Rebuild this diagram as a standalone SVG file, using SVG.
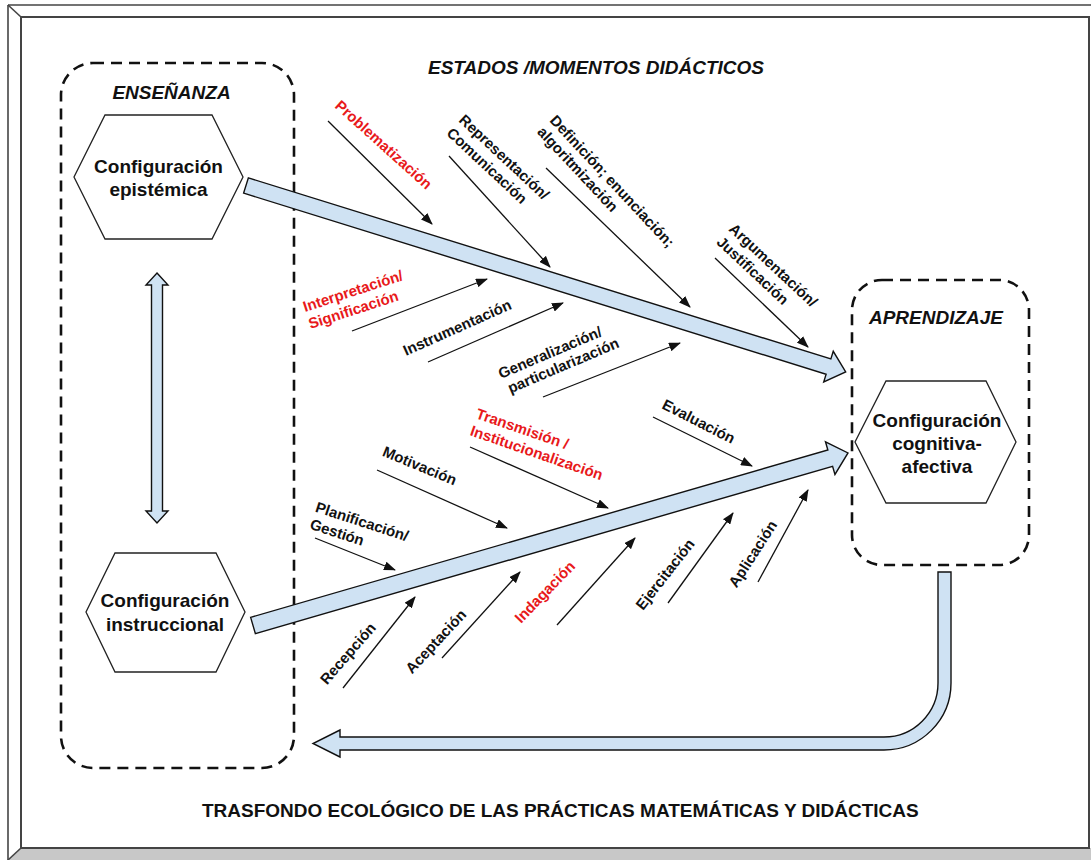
<svg xmlns="http://www.w3.org/2000/svg" width="1091" height="860" viewBox="0 0 1091 860">
<defs>
<style>
.frame{fill:none;stroke:#444;stroke-width:1.6}
.dash{fill:none;stroke:#111;stroke-width:2.6;stroke-dasharray:11 7}
.hex{fill:#fff;stroke:#222;stroke-width:1.3}
.big{fill:#cfe2f3;stroke:#111;stroke-width:1.4;stroke-linejoin:miter}
.sm{fill:none;stroke:#111;stroke-width:1.3;marker-end:url(#ah)}
.ht{font-family:"Liberation Sans",Arial,sans-serif;font-weight:bold;font-size:19px;fill:#111;text-anchor:middle}
.ttl{font-family:"Liberation Sans",Arial,sans-serif;font-weight:bold;font-style:italic;font-size:19px;fill:#111}
.foot{font-family:"Liberation Sans",Arial,sans-serif;font-weight:bold;font-size:19px;fill:#111}
.lbl{font-family:"Liberation Sans",Arial,sans-serif;font-weight:bold;font-size:15px;fill:#111}
.red{fill:#e8191b}
</style>
<marker id="ah" markerUnits="userSpaceOnUse" markerWidth="12" markerHeight="9" refX="11" refY="4.5" orient="auto">
<path d="M0,0 L12,4.5 L0,9 Z" fill="#111"/>
</marker>
</defs>
<rect x="0" y="0" width="1091" height="860" fill="#fff"/>
<g id="frame">
<polygon points="8,860 21,848 1091,848 1091,860" fill="#c8c8c8"/>
<line class="frame" x1="8" y1="5" x2="1091" y2="5"/>
<line class="frame" x1="8" y1="5" x2="8" y2="860"/>
<line class="frame" x1="8" y1="5" x2="21" y2="17"/>
<line class="frame" x1="8" y1="860" x2="21" y2="848"/>
<rect class="frame" x="21" y="17" width="1068" height="831" style="stroke-width:2"/>
</g>
<g id="ensenanza">
<rect class="dash" x="61" y="63" width="233" height="705" rx="32"/>
<text class="ttl" x="171.5" y="99" text-anchor="middle">ENSEÑANZA</text>
</g>
<g id="aprendizaje">
<rect class="dash" x="852" y="280" width="177" height="285" rx="30"/>
<text class="ttl" x="936" y="324" text-anchor="middle">APRENDIZAJE</text>
</g>
<g id="titulo"><text class="ttl" x="428" y="74">ESTADOS /MOMENTOS DIDÁCTICOS</text></g>
<g id="trasfondo"><text class="foot" x="202" y="817">TRASFONDO ECOLÓGICO DE LAS PRÁCTICAS MATEMÁTICAS Y DIDÁCTICAS</text></g>
<g id="conf-epistemica">
<polygon class="hex" points="105,115 212,115 243,177 212,239 105,239 74,177"/>
<text class="ht" x="158.5" y="173">Configuración</text>
<text class="ht" x="158.5" y="196">epistémica</text>
</g>
<g id="conf-instruccional">
<polygon class="hex" points="115,553 216,553 245,612 216,672 115,672 86,612"/>
<text class="ht" x="165" y="607">Configuración</text>
<text class="ht" x="165" y="631">instruccional</text>
</g>
<g id="conf-cognitiva">
<polygon class="hex" points="886,381 986,381 1016,442 986,503 886,503 855,442"/>
<text class="ht" x="937" y="427">Configuración</text>
<text class="ht" x="937" y="450">cognitiva-</text>
<text class="ht" x="937" y="473">afectiva</text>
</g>
<g id="connectors">
<polygon class="big" points="157,273 168,285 162.5,285 162.5,511 168,511 157,523 146,511 151.5,511 151.5,285 146,285"/>
<polygon class="big" transform="translate(246,185.5) rotate(17.27)" points="0,-8 610,-8 610,-16 628,0 610,16 610,8 0,8"/>
<polygon class="big" transform="translate(253,625.5) rotate(-16.17)" points="0,-8.5 601,-8.5 601,-17 619.5,0 601,17 601,8.5 0,8.5"/>
<path class="big" d="M938,572 H951 V683 A67,67 0 0 1 884,750 H340 V757 L313,743.5 L340,730 V737 H884 A54,54 0 0 0 938,683 Z"/>
<line class="sm" x1="328" y1="121" x2="432" y2="224"/>
<line class="sm" x1="449" y1="156" x2="550" y2="267"/>
<line class="sm" x1="546" y1="168" x2="690" y2="307"/>
<line class="sm" x1="715" y1="258" x2="808" y2="347"/>
<line class="sm" x1="352" y1="331" x2="487" y2="279"/>
<line class="sm" x1="428" y1="362" x2="563" y2="303"/>
<line class="sm" x1="543" y1="397" x2="680" y2="343"/>
<line class="sm" x1="653" y1="417" x2="752" y2="466"/>
<line class="sm" x1="470" y1="447" x2="608" y2="508"/>
<line class="sm" x1="377" y1="470" x2="507" y2="528"/>
<line class="sm" x1="315" y1="538" x2="395" y2="570"/>
<line class="sm" x1="343" y1="688" x2="415" y2="597"/>
<line class="sm" x1="442" y1="658" x2="520" y2="572"/>
<line class="sm" x1="557" y1="625" x2="635" y2="538"/>
<line class="sm" x1="668" y1="603" x2="733" y2="513"/>
<line class="sm" x1="758" y1="582" x2="808" y2="490"/>
</g>
<g id="labels">
<g id="l-problematizacion" transform="translate(334,107) rotate(42)"><text class="lbl red">Problematización</text></g>
<g id="l-representacion" transform="translate(458,121) rotate(43)"><text class="lbl">Representación/</text><text class="lbl" y="18">Comunicación</text></g>
<g id="l-definicion" transform="translate(549,121) rotate(47)"><text class="lbl">Definición; enunciación;</text><text class="lbl" y="17">algoritmización</text></g>
<g id="l-argumentacion" transform="translate(728,230) rotate(43)"><text class="lbl">Argumentación/</text><text class="lbl" y="18">Justificación</text></g>
<g id="l-interpretacion" transform="translate(305,312) rotate(-18)"><text class="lbl red">Interpretación/</text><text class="lbl red" y="18">Significación</text></g>
<g id="l-instrumentacion" transform="translate(406,356) rotate(-24)"><text class="lbl">Instrumentación</text></g>
<g id="l-generalizacion" transform="translate(501,379) rotate(-23)"><text class="lbl">Generalización/</text><text class="lbl" x="3" y="17">particularización</text></g>
<g id="l-evaluacion" transform="translate(661,408) rotate(27)"><text class="lbl">Evaluación</text></g>
<g id="l-transmision" transform="translate(475,418) rotate(19)"><text class="lbl red">Transmisión /</text><text class="lbl red" y="18">Institucionalización</text></g>
<g id="l-motivacion" transform="translate(381.5,455.5) rotate(22.5)"><text class="lbl">Motivación</text></g>
<g id="l-planificacion" transform="translate(314.5,511.5) rotate(18)"><text class="lbl">Planificación/</text><text class="lbl" y="18">Gestión</text></g>
<g id="l-recepcion" transform="translate(327,685.5) rotate(-49)"><text class="lbl">Recepción</text></g>
<g id="l-aceptacion" transform="translate(412,674.5) rotate(-47)"><text class="lbl">Aceptación</text></g>
<g id="l-indagacion" transform="translate(521,624) rotate(-46)"><text class="lbl red">Indagación</text></g>
<g id="l-ejercitacion" transform="translate(643,611) rotate(-52)"><text class="lbl">Ejercitación</text></g>
<g id="l-aplicacion" transform="translate(736.5,588.5) rotate(-57)"><text class="lbl">Aplicación</text></g>
</g>
</svg>
